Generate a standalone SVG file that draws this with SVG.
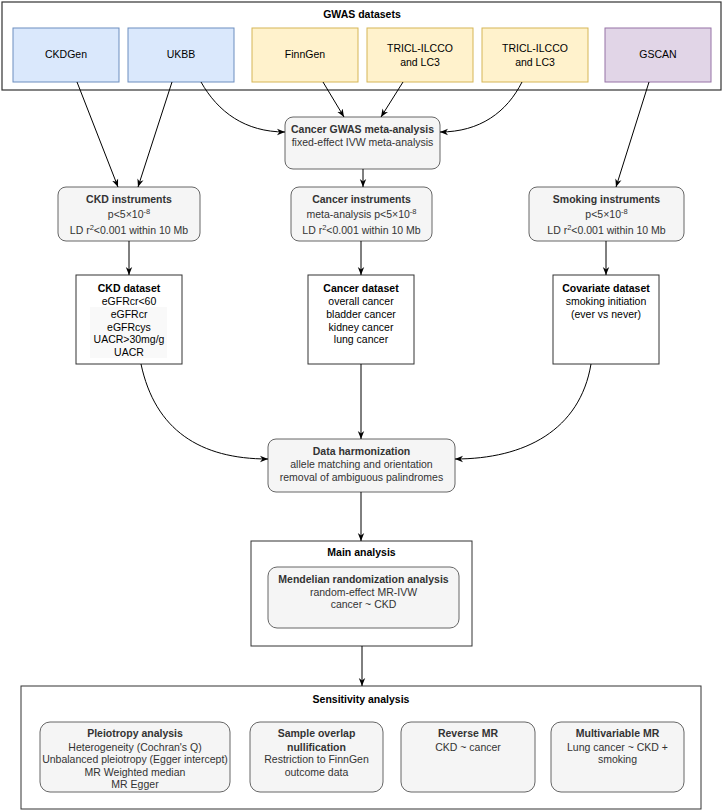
<svg xmlns="http://www.w3.org/2000/svg" width="723" height="812" viewBox="0 0 723 812">
<defs>
<marker id="arr" viewBox="0 0 10 10" refX="10" refY="5" markerWidth="8" markerHeight="8" markerUnits="userSpaceOnUse" orient="auto">
<path d="M0,1 L10,5 L0,9 L3,5 z" fill="#000"/>
</marker>
<style>
text{font-family:"Liberation Sans",Arial,Helvetica,sans-serif;font-size:10.5px;text-anchor:middle;fill:#000}
.b{font-weight:bold}
.g{fill:#333}
.frame{fill:#fff;stroke:#333;stroke-width:1.2}
.blue{fill:#dae8fc;stroke:#6c8ebf}
.yel{fill:#fff2cc;stroke:#d6b656}
.pur{fill:#e1d5e7;stroke:#9673a6}
.gray{fill:#f5f5f5;stroke:#666}
.ds{fill:#fff;stroke:#333}
.c{fill:none;stroke:#000;stroke-width:1;marker-end:url(#arr)}
.sup{font-size:7.5px}
</style>
</defs>
<rect width="723" height="812" fill="#fff"/>

<g id="gwas-datasets">
<rect class="frame" x="2" y="2" width="719" height="88"/>
<text class="b" x="362" y="18">GWAS datasets</text>
</g>
<g id="ckdgen"><rect class="blue" x="13" y="28" width="106" height="54"/><text x="66" y="58">CKDGen</text></g>
<g id="ukbb"><rect class="blue" x="128" y="28" width="106" height="54"/><text x="181" y="58">UKBB</text></g>
<g id="finngen"><rect class="yel" x="252" y="28" width="106" height="54"/><text x="305" y="58">FinnGen</text></g>
<g id="tricl1"><rect class="yel" x="367" y="28" width="106" height="54"/><text x="420" y="52">TRICL-ILCCO</text><text x="420" y="66">and LC3</text></g>
<g id="tricl2"><rect class="yel" x="482" y="28" width="106" height="54"/><text x="535" y="52">TRICL-ILCCO</text><text x="535" y="66">and LC3</text></g>
<g id="gscan"><rect class="pur" x="605" y="28" width="106" height="54"/><text x="658" y="58">GSCAN</text></g>

<g id="meta">
<rect class="gray" x="285" y="117" width="155" height="52" rx="8"/>
<text class="b g" x="362.5" y="133">Cancer GWAS meta-analysis</text>
<text class="g" x="362.5" y="145.5">fixed-effect IVW meta-analysis</text>
</g>

<g id="ckd-instruments">
<rect class="gray" x="58" y="187" width="142" height="54" rx="8"/>
<text class="b g" x="129" y="203">CKD instruments</text>
<text class="g" x="129" y="218">p&lt;5×10<tspan class="sup" dy="-4">-8</tspan></text>
<text class="g" x="129" y="234">LD r<tspan class="sup" dy="-4">2</tspan><tspan dy="4">&lt;0.001 within 10 Mb</tspan></text>
</g>
<g id="cancer-instruments">
<rect class="gray" x="291" y="187" width="141" height="54" rx="8"/>
<text class="b g" x="361.5" y="203">Cancer instruments</text>
<text class="g" x="361.5" y="218">meta-analysis p&lt;5×10<tspan class="sup" dy="-4">-8</tspan></text>
<text class="g" x="361.5" y="234">LD r<tspan class="sup" dy="-4">2</tspan><tspan dy="4">&lt;0.001 within 10 Mb</tspan></text>
</g>
<g id="smoking-instruments">
<rect class="gray" x="529" y="187" width="155" height="54" rx="8"/>
<text class="b g" x="606.5" y="203">Smoking instruments</text>
<text class="g" x="606.5" y="218">p&lt;5×10<tspan class="sup" dy="-4">-8</tspan></text>
<text class="g" x="606.5" y="234">LD r<tspan class="sup" dy="-4">2</tspan><tspan dy="4">&lt;0.001 within 10 Mb</tspan></text>
</g>

<g id="ckd-dataset">
<rect class="ds" x="76" y="275" width="106" height="89"/>
<rect x="90" y="307" width="77" height="51" fill="#f9f9f9"/>
<text class="b" x="129" y="292">CKD dataset</text>
<text x="129" y="305">eGFRcr&lt;60</text>
<text x="129" y="318">eGFRcr</text>
<text x="129" y="330.5">eGFRcys</text>
<text x="129" y="343">UACR&gt;30mg/g</text>
<text x="129" y="356">UACR</text>
</g>
<g id="cancer-dataset">
<rect class="ds" x="308" y="275" width="106" height="89"/>
<text class="b" x="361" y="292">Cancer dataset</text>
<text x="361" y="305">overall cancer</text>
<text x="361" y="318">bladder cancer</text>
<text x="361" y="330.5">kidney cancer</text>
<text x="361" y="343">lung cancer</text>
</g>
<g id="covariate-dataset">
<rect class="ds" x="553" y="275" width="106" height="89"/>
<text class="b" x="606" y="292">Covariate dataset</text>
<text x="606" y="305">smoking initiation</text>
<text x="606" y="318">(ever vs never)</text>
</g>

<g id="harmonization">
<rect class="gray" x="268" y="439" width="187" height="53" rx="8"/>
<text class="b g" x="361.5" y="455">Data harmonization</text>
<text class="g" x="361.5" y="467.5">allele matching and orientation</text>
<text class="g" x="361.5" y="480.5">removal of ambiguous palindromes</text>
</g>

<g id="main-analysis">
<rect class="ds" x="251" y="541" width="221" height="105"/>
<text class="b" x="361.5" y="556">Main analysis</text>
</g>
<g id="mr-analysis">
<rect class="gray" x="268" y="567" width="191" height="61" rx="9"/>
<text class="b g" x="363.5" y="583">Mendelian randomization analysis</text>
<text class="g" x="363.5" y="596">random-effect MR-IVW</text>
<text class="g" x="363.5" y="608">cancer ~ CKD</text>
</g>

<g id="sensitivity-analysis">
<rect class="ds" x="21" y="686" width="680" height="123"/>
<text class="b" x="361" y="703">Sensitivity analysis</text>
</g>
<g id="pleiotropy">
<rect class="gray" x="40" y="722" width="190" height="70" rx="10"/>
<text class="b g" x="135" y="737">Pleiotropy analysis</text>
<text class="g" x="135" y="750.5">Heterogeneity (Cochran's Q)</text>
<text class="g" x="135" y="763">Unbalanced pleiotropy (Egger intercept)</text>
<text class="g" x="135" y="775.5">MR Weighted median</text>
<text class="g" x="135" y="788">MR Egger</text>
</g>
<g id="sample-overlap">
<rect class="gray" x="250" y="722" width="133" height="70" rx="10"/>
<text class="b g" x="316.5" y="737">Sample overlap</text>
<text class="b g" x="316.5" y="750.5">nullification</text>
<text class="g" x="316.5" y="763">Restriction to FinnGen</text>
<text class="g" x="316.5" y="775.5">outcome data</text>
</g>
<g id="reverse-mr">
<rect class="gray" x="401" y="722" width="134" height="70" rx="10"/>
<text class="b g" x="468" y="737">Reverse MR</text>
<text class="g" x="468" y="750.5">CKD ~ cancer</text>
</g>
<g id="multivariable-mr">
<rect class="gray" x="551" y="722" width="133" height="70" rx="10"/>
<text class="b g" x="617.5" y="737">Multivariable MR</text>
<text class="g" x="617.5" y="750.5">Lung cancer ~ CKD +</text>
<text class="g" x="617.5" y="763">smoking</text>
</g>

<g id="connectors">
<path class="c" d="M77,82 L118,187"/>
<path class="c" d="M172,82 L138,187"/>
<path class="c" d="M201,82 C218,112 245,132 285,132"/>
<path class="c" d="M323,82 L344,117"/>
<path class="c" d="M403,82 L381,117"/>
<path class="c" d="M522,82 C507,112 480,132 440,132"/>
<path class="c" d="M649,82 L616,187"/>
<path class="c" d="M363,169 L363,187"/>
<path class="c" d="M129,241 L129,275"/>
<path class="c" d="M361,241 L361,275"/>
<path class="c" d="M606,241 L606,275"/>
<path class="c" d="M141,364 C155,430 200,459 268,459"/>
<path class="c" d="M361,364 L361,439"/>
<path class="c" d="M591,364 C580,430 525,459 455,459"/>
<path class="c" d="M361,492 L361,541"/>
<path class="c" d="M362,646 L362,686"/>
</g>
</svg>
